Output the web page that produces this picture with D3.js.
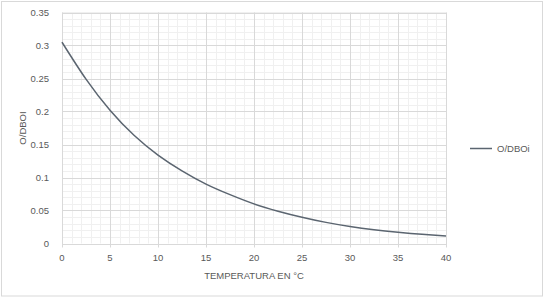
<!DOCTYPE html>
<meta charset="utf-8">
<style>
body { margin: 0; background: #fff; }
svg text { font-family: "Liberation Sans", Arial, sans-serif; fill: #595959; }
</style>
<svg width="559" height="306" id="chart"></svg>
<script src="https://d3js.org/d3.v7.min.js"></script>
<script>

// data
var temps = [0, 2.5, 5, 7.5, 10, 12.5, 15, 17.5, 20, 22.5, 25, 27.5, 30, 32.5, 35, 37.5, 40];
var ratio = [0.305, 0.249, 0.202, 0.164, 0.134, 0.110, 0.090, 0.074, 0.060, 0.049, 0.0398, 0.032, 0.0258, 0.021, 0.0172, 0.014, 0.0115];
var xTicks = [0, 5, 10, 15, 20, 25, 30, 35, 40];
var yTicks = [0, 0.05, 0.1, 0.15, 0.2, 0.25, 0.3, 0.35];
var seriesName = "O/DBOi";

var svg = d3.select("svg");

var x = d3.scaleLinear().domain([0, 40]).range([62, 446]);
var y = d3.scaleLinear().domain([0, 0.35]).range([243.5, 12.5]);

// chart border
svg.append("rect")
    .attr("x", 1.5).attr("y", 1.5)
    .attr("width", 541).attr("height", 294.5)
    .attr("fill", "#fff")
    .attr("stroke", "#d9d9d9");

// minor grid
var xMinor = d3.range(0, 40.01, 1);
var yMinor = d3.range(0, 0.3501, 0.01);
var grid = svg.append("g");
grid.selectAll(".vmin").data(xMinor).enter().append("line")
    .attr("x1", function(d) { return Math.round(x(d)) + 0.5; })
    .attr("x2", function(d) { return Math.round(x(d)) + 0.5; })
    .attr("y1", y(0)).attr("y2", y(0.35))
    .attr("stroke", "#f0f0f0");
grid.selectAll(".hmin").data(yMinor).enter().append("line")
    .attr("y1", function(d) { return Math.round(y(d)) + 0.5; })
    .attr("y2", function(d) { return Math.round(y(d)) + 0.5; })
    .attr("x1", x(0)).attr("x2", x(40))
    .attr("stroke", "#f0f0f0");

// major grid
grid.selectAll(".vmaj").data(xTicks).enter().append("line")
    .attr("x1", function(d) { return Math.round(x(d)) + 0.5; })
    .attr("x2", function(d) { return Math.round(x(d)) + 0.5; })
    .attr("y1", y(0) + 4).attr("y2", y(0.35))
    .attr("stroke", "#d9d9d9");
grid.selectAll(".hmaj").data(yTicks).enter().append("line")
    .attr("y1", function(d) { return Math.round(y(d)) + 0.5; })
    .attr("y2", function(d) { return Math.round(y(d)) + 0.5; })
    .attr("x1", x(0)).attr("x2", x(40))
    .attr("stroke", "#d9d9d9");

// tick labels
svg.append("g").selectAll("text").data(yTicks).enter().append("text")
    .attr("x", 49)
    .attr("y", function(d) { return y(d) + 3.5; })
    .attr("text-anchor", "end")
    .attr("font-size", "9.5px")
    .text(function(d) { return d; });

svg.append("g").selectAll("text").data(xTicks).enter().append("text")
    .attr("x", function(d) { return x(d); })
    .attr("y", 261)
    .attr("text-anchor", "middle")
    .attr("font-size", "9.5px")
    .text(function(d) { return d; });

// axis titles
svg.append("text")
    .attr("x", 254).attr("y", 278.5)
    .attr("text-anchor", "middle")
    .attr("font-size", "9.5px")
    .text("TEMPERATURA EN °C");

svg.append("text")
    .attr("transform", "translate(26,128) rotate(-90)")
    .attr("text-anchor", "middle")
    .attr("font-size", "9.5px")
    .text("O/DBOI");

// curve
var line = d3.line()
    .x(function(d, i) { return x(temps[i]); })
    .y(function(d) { return y(d); })
    .curve(d3.curveNatural);

svg.append("path")
    .datum(ratio)
    .attr("d", line)
    .attr("fill", "none")
    .attr("stroke", "#5b6570")
    .attr("stroke-width", 1.5);

// legend
var lg = svg.append("g").attr("transform", "translate(470,148.5)");
lg.append("line").attr("x1", 0).attr("x2", 22)
    .attr("stroke", "#5b6570").attr("stroke-width", 1.5);
lg.append("text").attr("x", 27).attr("y", 3.5)
    .attr("font-size", "9.5px")
    .text(seriesName);

</script>
